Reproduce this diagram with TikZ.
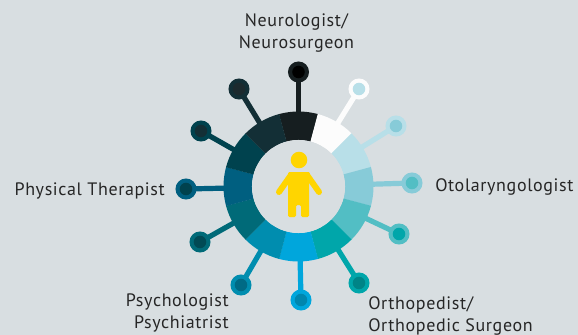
\documentclass[tikz,border=0pt]{standalone}
\usepackage{fontspec}
\setmainfont[LetterSpace=3.5]{PT Sans}
\definecolor{bg}{HTML}{D8DEE1}
\definecolor{yel}{HTML}{FFD500}
\tikzset{
 lab/.style={font=\fontsize{13.5}{17.2}\selectfont, text=black!85, align=center, inner sep=0pt},
 stem/.style={line width=3.9pt},
}
\begin{document}
\begin{tikzpicture}[x=0.75pt,y=-0.75pt]
\useasboundingbox (0,0) rectangle (578,335);
\fill[bg] (0,0) rectangle (578,335);
\coordinate (c) at (298.5,186.5);
\foreach \n/\x/\y/\r/\i in {
 a/298.5/72/161E20/000000,
 b/359/89/FCFCFC/B8DFE8,
 d/396/126/B8DFE8/87CBD8,
 e/412/183/87CBD8/52BEC4,
 f/399/234/52BEC4/00A6AA,
 g/359/283/00A6AA/008487,
 h/301/300/00A6DC/0086AE,
 i/241/285/008DAF/006A85,
 j/200/242/006A78/004A55,
 k/186/189/005F80/00424E,
 l/201/131/00424E/132F36,
 m/239/89/132F36/1C2A2E}{
  \definecolor{rc}{HTML}{\r}
  \coordinate (\n) at (\x,\y);
  \draw[rc,stem] (c) -- (\n);
}
% ring segments above the stems
\foreach \a/\c in {90/161E20,60/FCFCFC,30/B8DFE8,0/87CBD8,-30/52BEC4,-60/00A6AA,-90/00A6DC,-120/008DAF,-150/006A78,180/005F80,150/00424E,120/132F36}{
  \definecolor{segc}{HTML}{\c}
  \fill[segc,shift={(298.5,186.5)},x=0.75pt,y=0.75pt] (\a-15.1:75) arc (\a-15.1:\a+15.1:75) -- (\a+15.1:46.5) arc (\a+15.1:\a-15.1:46.5) -- cycle;
}
\fill[bg] (c) circle[radius=34.9pt];
\foreach \n/\r/\i in {a/161E20/000000,b/FCFCFC/B8DFE8,d/B8DFE8/87CBD8,e/87CBD8/52BEC4,f/52BEC4/00A6AA,g/00A6AA/008487,h/00A6DC/0086AE,i/008DAF/006A85,j/006A78/004A55,k/005F80/00424E,l/00424E/132F36,m/132F36/1C2A2E}{
  \definecolor{rc}{HTML}{\r}\definecolor{ic}{HTML}{\i}
  \fill[rc] (\n) circle[radius=7.9pt];
  \fill[ic] (\n) circle[radius=4.7pt];
}
% person
\fill[yel] (299,160) circle[radius=6.2pt];
\fill[yel,rounded corners=1pt] (288,172) -- (310,172) -- (309,178) -- (309,217) -- (301,217) -- (301,205) -- (296,205) -- (296,217) -- (288,217) -- (288,178) -- cycle;
\draw[yel,line width=4.5pt,line cap=round] (291,175) -- (279,192);
\draw[yel,line width=4.5pt,line cap=round] (307,175) -- (319,192);
% labels
\node[lab] (neuro) at (296.5,33) {Neurologist/\\Neurosurgeon};
\node[lab,anchor=east] (pt) at (165,191) {Physical Therapist};
\node[lab,anchor=west] (oto) at (435,187) {Otolaryngologist};
\node[lab,align=right,anchor=east] (psy) at (229,313) {Psychologist\\Psychiatrist};
\node[lab,align=left,anchor=west] (orth) at (368,316) {Orthopedist/\\Orthopedic Surgeon};
\end{tikzpicture}
\end{document}
